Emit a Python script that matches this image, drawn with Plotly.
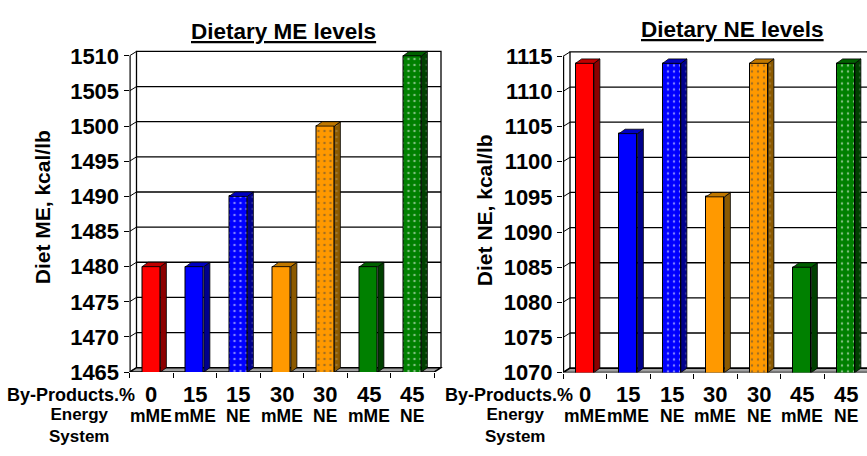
import plotly.graph_objects as go

# ---- data -------------------------------------------------------------
by_products = ["0", "15", "15", "30", "30", "45", "45"]
energy_system = ["mME", "mME", "NE", "mME", "NE", "mME", "NE"]
diet_me = [1480, 1480, 1490, 1480, 1500, 1480, 1510]
diet_ne = [1114, 1104, 1114, 1095, 1114, 1085, 1114]
me_ticks = [1465, 1470, 1475, 1480, 1485, 1490, 1495, 1500, 1505, 1510]
ne_ticks = [1070, 1075, 1080, 1085, 1090, 1095, 1100, 1105, 1110, 1115]

# ---- styling ----------------------------------------------------------
FONT = "Liberation Sans, Arial, sans-serif"
front_colors = ["#FF0000", "#0000FF", "#0000FF", "#FF9900", "#FF9900", "#008000", "#008000"]
side_colors = ["#8C0000", "#00008C", "#00008C", "#8C5A00", "#8C5A00", "#004000", "#004000"]
top_colors = ["#C00000", "#0000C0", "#0000C0", "#C07800", "#C07800", "#006000", "#006000"]

W, H = 867, 456
CW = 43.5            # category width in px
WALL_DX, WALL_DY = 7.0, 4.6
BAR_DX, BAR_DY = 6.0, 4.6
BAR_W = 0.42

fig = go.Figure()
shapes, annotations = [], []


def panel(idx, values, ticks, fx0, yb, yt, title, ytitle, title_xy, ytitle_xy,
          bp_right, es_center):
    xa = "x" if idx == 1 else f"x{idx}"
    ya = "y" if idx == 1 else f"y{idx}"
    n = len(values)
    ymin, ymax = ticks[0], ticks[-1]
    s = (yb - yt) / (ymax - ymin)          # px per value unit
    ux, uy = 1.0 / CW, 1.0 / s

    x1_px = min(fx0 + n * CW + WALL_DX + 1.5, W)
    xr = [-0.5, -0.5 + (x1_px - fx0) / CW]
    top_px = yt - WALL_DY - 1.5
    yr = [ymin, ymax + (yt - top_px) / s]

    axkey = "xaxis" if idx == 1 else f"xaxis{idx}"
    aykey = "yaxis" if idx == 1 else f"yaxis{idx}"
    bounds = [i - 0.5 for i in range(n + 1)]
    fig.update_layout({
        axkey: dict(domain=[fx0 / W, x1_px / W], range=xr, fixedrange=True,
                    anchor=ya, showgrid=False, zeroline=False, showline=False,
                    showticklabels=False, ticks="", tickvals=list(range(n)),
                    minor=dict(tickvals=bounds, ticks="outside", ticklen=5,
                               tickwidth=1, tickcolor="black", showgrid=False)),
        aykey: dict(domain=[(H - yb) / H, (H - top_px) / H], range=yr,
                    fixedrange=True, anchor=xa, showgrid=False, zeroline=False,
                    showline=False, tickvals=ticks, ticks="outside", ticklen=5,
                    tickwidth=1, tickcolor="black",
                    tickfont=dict(family=FONT, size=22, color="black", weight="bold")),
    })

    ref = dict(xref=xa, yref=ya)
    xb0 = -0.5 + WALL_DX * ux
    xb1 = (n - 0.5) + WALL_DX * ux
    back = lambda v: v + WALL_DY * uy

    # back wall
    shapes.append(dict(type="path", layer="below", **ref,
                       path=f"M{xb0},{back(ymin)} L{xb0},{back(ymax)} L{xb1},{back(ymax)} L{xb1},{back(ymin)}",
                       line=dict(color="black", width=1.3), fillcolor="white"))
    # back-wall gridlines and tick connectors
    for v in ticks:
        if ymin < v < ymax:
            shapes.append(dict(type="line", layer="below", **ref, x0=xb0, x1=xb1,
                               y0=back(v), y1=back(v), line=dict(color="black", width=1.3)))
        shapes.append(dict(type="line", layer="below", **ref, x0=-0.5, x1=xb0,
                           y0=v, y1=back(v), line=dict(color="black", width=1)))
    # side wall front edge
    shapes.append(dict(type="line", layer="below", **ref, x0=-0.5, x1=-0.5,
                       y0=ymin, y1=ymax, line=dict(color="black", width=2.4)))
    # floor
    shapes.append(dict(type="path", layer="below", **ref,
                       path=f"M-0.5,{ymin} L{n - 0.5},{ymin} L{xb1},{back(ymin)} L{xb0},{back(ymin)} Z",
                       line=dict(color="black", width=1.6), fillcolor="#A0A0A0"))

    # front faces
    patterned = [e == "NE" for e in energy_system]
    fig.add_trace(go.Bar(
        x=list(range(n)), y=values, width=BAR_W, xaxis=xa, yaxis=ya,
        hoverinfo="skip", showlegend=False,
        marker=dict(color=front_colors, line=dict(color="black", width=1),
                    pattern=dict(shape=["." if p else "" for p in patterned],
                                 fgcolor="rgba(255,255,255,0.8)",
                                 fillmode="overlay", size=6, solidity=0.14)),
    ))

    # side and top faces of each bar
    hw = BAR_W / 2
    for i, v in enumerate(values):
        dx, dy = BAR_DX * ux, BAR_DY * uy
        xs = [i + hw, i + hw + dx, i + hw + dx, i + hw, i + hw]
        ys = [ymin, ymin + dy, v + dy, v, ymin]
        side = dict(x=xs, y=ys, mode="lines", fill="toself", fillcolor=side_colors[i],
                    line=dict(color="black", width=0.8), xaxis=xa, yaxis=ya,
                    hoverinfo="skip", showlegend=False)
        if patterned[i]:
            side["fillpattern"] = dict(shape=".", fgcolor="rgba(255,255,255,0.35)",
                                       fillmode="overlay", size=6, solidity=0.14)
        fig.add_trace(go.Scatter(**side))
        xt = [i - hw, i + hw, i + hw + dx, i - hw + dx, i - hw]
        yt_ = [v, v, v + dy, v + dy, v]
        fig.add_trace(go.Scatter(x=xt, y=yt_, mode="lines", fill="toself",
                                 fillcolor=top_colors[i],
                                 line=dict(color="black", width=0.8),
                                 xaxis=xa, yaxis=ya, hoverinfo="skip", showlegend=False))

    # category labels
    for i in range(n):
        annotations.append(dict(xref=xa, yref="paper", x=i, y=(H - 405.5) / H,
                                text=f"<b>{by_products[i]}</b>", showarrow=False,
                                xanchor="center", yanchor="middle",
                                font=dict(family=FONT, size=22, color="black")))
        annotations.append(dict(xref=xa, yref="paper", x=i, y=(H - 427.5) / H,
                                text=f"<b>{energy_system[i]}</b>", showarrow=False,
                                xanchor="center", yanchor="middle",
                                font=dict(family=FONT, size=17.5, color="black")))
    lab = dict(family=FONT, size=17, color="black")
    annotations.append(dict(xref="paper", yref="paper", x=bp_right / W, y=(H - 405.5) / H,
                            text="<b>By-Products.%</b>", showarrow=False,
                            xanchor="right", yanchor="middle",
                            font=dict(family=FONT, size=18, color="black")))
    annotations.append(dict(xref="paper", yref="paper", x=es_center / W, y=(H - 438) / H,
                            text="<b>Energy</b><br><b>System</b>", showarrow=False,
                            xanchor="center", yanchor="middle", align="center", font=lab))
    # titles
    annotations.append(dict(xref="paper", yref="paper", x=title_xy[0] / W, y=(H - title_xy[1]) / H,
                            text=f"<b><u>{title}</u></b>", showarrow=False,
                            xanchor="center", yanchor="middle",
                            font=dict(family=FONT, size=22.5, color="black")))
    annotations.append(dict(xref="paper", yref="paper", x=ytitle_xy[0] / W, y=(H - ytitle_xy[1]) / H,
                            text=f"<b>{ytitle}</b>", showarrow=False, textangle=-90,
                            xanchor="center", yanchor="middle",
                            font=dict(family=FONT, size=21, color="black")))


panel(1, diet_me, me_ticks, fx0=129.5, yb=382, yt=52,
      title="Dietary ME levels", ytitle="Diet ME, kcal/lb",
      title_xy=(283, 27), ytitle_xy=(42, 210), bp_right=137, es_center=79)
panel(2, diet_ne, ne_ticks, fx0=563, yb=382.5, yt=52.5,
      title="Dietary NE levels", ytitle="Diet NE, kcal/lb",
      title_xy=(732, 25), ytitle_xy=(484, 213), bp_right=575, es_center=515)

fig.update_layout(
    width=W, height=H, margin=dict(l=0, r=0, t=0, b=0),
    paper_bgcolor="white", plot_bgcolor="rgba(0,0,0,0)",
    shapes=shapes, annotations=annotations, bargap=0,
    font=dict(family=FONT, color="black"),
)

fig.write_html("out.html")
